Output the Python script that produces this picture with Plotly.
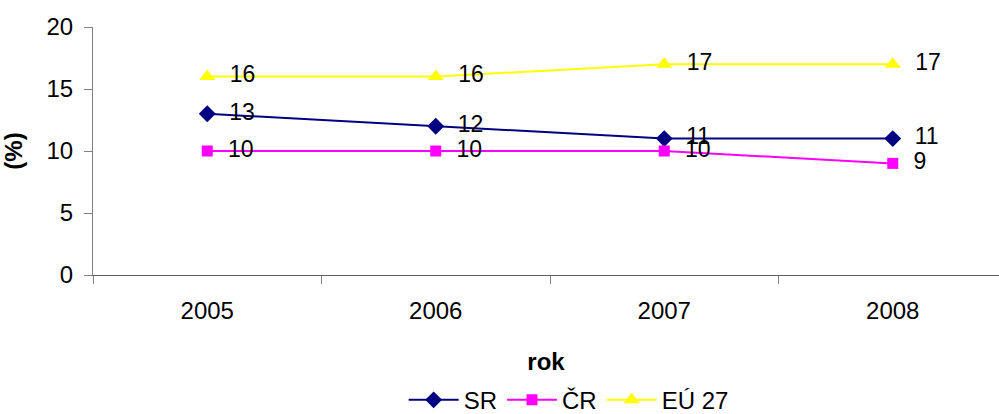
import plotly.graph_objects as go

years = ["2005", "2006", "2007", "2008"]
sr = [13, 12, 11, 11]
cr = [10, 10, 10, 9]
eu = [16, 16, 17, 17]

series = [
    ("SR", sr, "#000080", "diamond", 13),
    ("ČR", cr, "#FF00FF", "square", 11),
    ("EÚ 27", eu, "#FFFF00", "triangle-up", 14),
]

fig = go.Figure()
for name, vals, color, sym, msize in series:
    fig.add_trace(go.Scatter(
        x=years, y=vals, name=name, mode="lines+markers+text",
        line=dict(color=color, width=2),
        marker=dict(symbol=sym, size=msize, color=color),
        text=["  " + str(v) for v in vals],
        textposition="middle right",
        textfont=dict(size=23, color="black"),
        cliponaxis=False,
    ))

fig.update_layout(
    width=999, height=414,
    margin=dict(l=93, r=0, t=27, b=139, autoexpand=False),
    paper_bgcolor="white", plot_bgcolor="white",
    font=dict(family="Liberation Sans, Arial, sans-serif", color="black"),
    showlegend=True,
    legend=dict(orientation="h", x=0.525, xanchor="center", y=-0.505, yanchor="middle",
                font=dict(size=24), itemwidth=50, tracegroupgap=0,
                bgcolor="rgba(0,0,0,0)"),
    xaxis=dict(type="category", range=[-0.5, 3.465], tickson="boundaries",
               ticks="outside", ticklen=8, tickcolor="#808080", showline=True,
               linecolor="#606060", linewidth=1, showgrid=False, zeroline=False,
               tickfont=dict(size=24), ticklabelstandoff=14, automargin=False,
               title=dict(text="<b>rok</b>", font=dict(size=24), standoff=30)),
    yaxis=dict(range=[0, 20], dtick=5, ticks="outside", ticklen=8, tickcolor="#808080",
               showline=True, linecolor="#808080", linewidth=1, showgrid=False,
               zeroline=False, tickfont=dict(size=24), ticklabelstandoff=6,
               automargin=False,
               title=dict(text="<b>(%)</b>", font=dict(size=24), standoff=18)),
)

fig.write_html(
    "out.html",
    config={"displayModeBar": False},
    post_script="document.body.style.margin='0';document.body.style.overflow='hidden';",
)
